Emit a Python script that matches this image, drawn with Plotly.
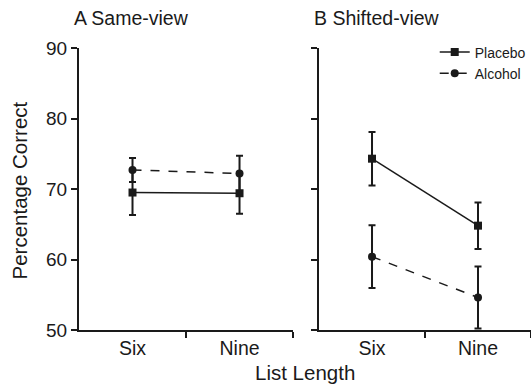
import plotly.graph_objects as go

categories = ["Six", "Nine"]
x_pos = [0, 1]

same_placebo = [69.5, 69.4]
same_placebo_err = [3.2, 2.9]
same_alcohol = [72.7, 72.2]
same_alcohol_err = [1.7, 2.5]

shift_placebo = [74.3, 64.8]
shift_placebo_err = [3.8, 3.3]
shift_alcohol = [60.4, 54.6]
shift_alcohol_err = [4.45, 4.4]

y_ticks = [50, 60, 70, 80, 90]

FONT = "Liberation Sans, Arial, sans-serif"
BLACK = "#1a1a1a"

fig = go.Figure()

def add_series(x_axis, y_axis, y, err, name, symbol, dash, showlegend):
    fig.add_trace(go.Scatter(
        x=x_pos, y=y, name=name, mode="lines+markers",
        xaxis=x_axis, yaxis=y_axis,
        line=dict(color=BLACK, width=1.5, dash=dash),
        marker=dict(symbol=symbol, size=8, color=BLACK),
        error_y=dict(type="data", array=err, visible=True, color=BLACK, thickness=2, width=3.5),
        showlegend=showlegend,
    ))

add_series("x", "y", same_placebo, same_placebo_err, "Placebo", "square", "solid", False)
add_series("x", "y", same_alcohol, same_alcohol_err, "Alcohol", "circle", "dash", False)
add_series("x2", "y2", shift_placebo, shift_placebo_err, "Placebo", "square", "solid", True)
add_series("x2", "y2", shift_alcohol, shift_alcohol_err, "Alcohol", "circle", "dash", True)

xcommon = dict(
    range=[-0.5, 1.5], tickvals=x_pos, ticktext=categories, ticks="",
    showline=True, linecolor=BLACK, linewidth=2, showgrid=False, zeroline=False,
    tickfont=dict(size=19.5, color=BLACK, family=FONT),
    minor=dict(tickvals=[0.5, 1.5], ticks="outside", ticklen=6, tickcolor=BLACK, tickwidth=1.5),
)
ycommon = dict(
    range=[50, 90], tickvals=y_ticks, ticks="outside", ticklen=6, tickwidth=1.5, tickcolor=BLACK,
    showline=True, linecolor=BLACK, linewidth=2, showgrid=False, zeroline=False,
    tickfont=dict(size=19, color=BLACK, family=FONT),
)

fig.update_layout(
    width=531, height=390,
    margin=dict(l=79, r=0, t=48, b=60),
    plot_bgcolor="white", paper_bgcolor="white",
    font=dict(family=FONT, color=BLACK),
    xaxis=dict(domain=[0, 0.4735], anchor="y", **xcommon),
    yaxis=dict(domain=[0, 1], anchor="x", showticklabels=True, **ycommon),
    xaxis2=dict(domain=[0.531, 1], anchor="y2", **xcommon),
    yaxis2=dict(domain=[0, 1], anchor="x2", showticklabels=False, **ycommon),
    legend=dict(x=0.787, y=1.041, xanchor="left", yanchor="top", bgcolor="rgba(0,0,0,0)",
                font=dict(size=14, color=BLACK, family=FONT), itemwidth=30,
                tracegroupgap=0),
    annotations=[
        dict(text="A Same-view", xref="paper", yref="paper", x=-0.0155, y=1.106,
             xanchor="left", yanchor="middle", showarrow=False, font=dict(size=19.5, color=BLACK)),
        dict(text="B Shifted-view", xref="paper", yref="paper", x=0.5155, y=1.106,
             xanchor="left", yanchor="middle", showarrow=False, font=dict(size=19.5, color=BLACK)),
        dict(text="Percentage Correct", xref="paper", yref="paper", x=-0.1316, y=0.493,
             xanchor="center", yanchor="middle", textangle=-90, showarrow=False,
             font=dict(size=20.5, color=BLACK)),
        dict(text="List Length", xref="paper", yref="paper", x=0.5, y=-0.152,
             xanchor="center", yanchor="middle", showarrow=False, font=dict(size=20.5, color=BLACK)),
    ],
)

fig.write_html("out.html", config={"displayModeBar": False},
               post_script="document.body.style.margin='0';")
